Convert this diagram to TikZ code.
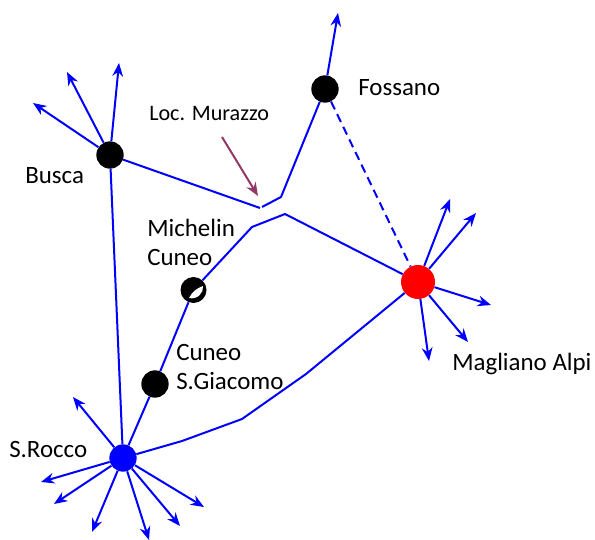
\documentclass[tikz,border=0pt]{standalone}
\usepackage{fontspec}
\setmainfont{Carlito}
\usetikzlibrary{arrows.meta}
\definecolor{linkblue}{RGB}{0,0,255}
\definecolor{markplum}{RGB}{146,56,104}
\tikzset{
	town/.style={circle,fill=black,inner sep=0pt,minimum size=20.5pt},
	link/.style={draw=linkblue,line width=1.5pt},
	spoke/.style={link,-{Stealth[length=10pt,width=8pt]}},
	place/.style={anchor=west,inner sep=0pt,align=left,font=\fontsize{18.7}{21.4}\selectfont}
}

\begin{document}
\begin{tikzpicture}[x=0.75pt,y=-0.75pt]
	\useasboundingbox (0,0) rectangle (595,539);

	%the towns
	\node[town] (busca) at (110,155){};
	\node[town] (fossano) at (325,89){};
	\node[town] (giacomo) at (155,384){};
	\node[town,fill=linkblue] (rocco) at (123,458){};
	\node[town,fill=red,minimum size=25.5pt] (magliano) at (418,282){};
	\node[town,minimum size=19.5pt] (michelin) at (193.5,290){};
	\fill[white] (189,298) .. controls (192,292) and (197,288) .. (203,286) .. controls (204,293) and (197,300) .. (189,298);

	%bends of the lines
	\coordinate (gapleft) at (260,208);
	\coordinate (gapright) at (262,207);
	\coordinate (bendf) at (281,197);
	\coordinate (bendm) at (252,227);
	\coordinate (bendt) at (285,214);
	\coordinate (bendr) at (182,441);
	\coordinate (bends) at (242,419);
	\coordinate (bendu) at (306,374);

	\draw[link] (busca) -- (gapleft);
	\draw[link] (fossano) -- (bendf) -- (gapright);
	\draw[link] (michelin) -- (bendm) -- (bendt) -- (magliano);
	\draw[link] (rocco) -- (bendr) -- (bends) -- (bendu) -- (magliano);
	\draw[link] (rocco) -- (busca);
	\draw[link] (rocco) -- (giacomo);
	\draw[link] (giacomo) -- (michelin);
	\draw[link,dash pattern=on 6.5pt off 4pt] (fossano) -- (magliano);

	%free ends of the arrows
	\coordinate (b1) at (33,103);
	\coordinate (b2) at (67,72);
	\coordinate (b3) at (119,63);
	\coordinate (f1) at (338,13);
	\coordinate (m1) at (450,199);
	\coordinate (m2) at (476,213);
	\coordinate (m3) at (491,305);
	\coordinate (m4) at (468,342);
	\coordinate (m5) at (429,361);
	\coordinate (r1) at (73,397);
	\coordinate (r2) at (41,482);
	\coordinate (r3) at (54,504);
	\coordinate (r4) at (92,532);
	\coordinate (r5) at (149,540);
	\coordinate (r6) at (180,526);
	\coordinate (r7) at (204,507);

	\foreach \tip in {b1,b2,b3}
		\draw[spoke] (busca) -- (\tip);
	\draw[spoke] (fossano) -- (f1);
	\foreach \tip in {m1,m2,m3,m4,m5}
		\draw[spoke] (magliano) -- (\tip);
	\foreach \tip in {r1,r2,r3,r4,r5,r6,r7}
		\draw[spoke] (rocco) -- (\tip);

	%arrow to the gap
	\coordinate (murazzotail) at (222,137);
	\coordinate (murazzohead) at (258,196);
	\draw[draw=markplum,line width=1.5pt,-{Stealth[length=10pt,width=8pt]}] (murazzotail) -- (murazzohead);

	%labels
	\node[place] (lblfossano) at (358,88){Fossano};
	\node[place] (lblbusca) at (25,176){Busca};
	\node[place,font=\fontsize{16.6}{20}\selectfont] (lblmurazzo) at (149,113){Loc. Murazzo};
	\node[place] (lblmichelin) at (147,242.5){Michelin\\Cuneo};
	\node[place] (lblgiacomo) at (176,367){Cuneo\\S.Giacomo};
	\node[place] (lblrocco) at (9,449){S.Rocco};
	\node[place] (lblmagliano) at (452,364){Magliano Alpi};
\end{tikzpicture}
\end{document}
